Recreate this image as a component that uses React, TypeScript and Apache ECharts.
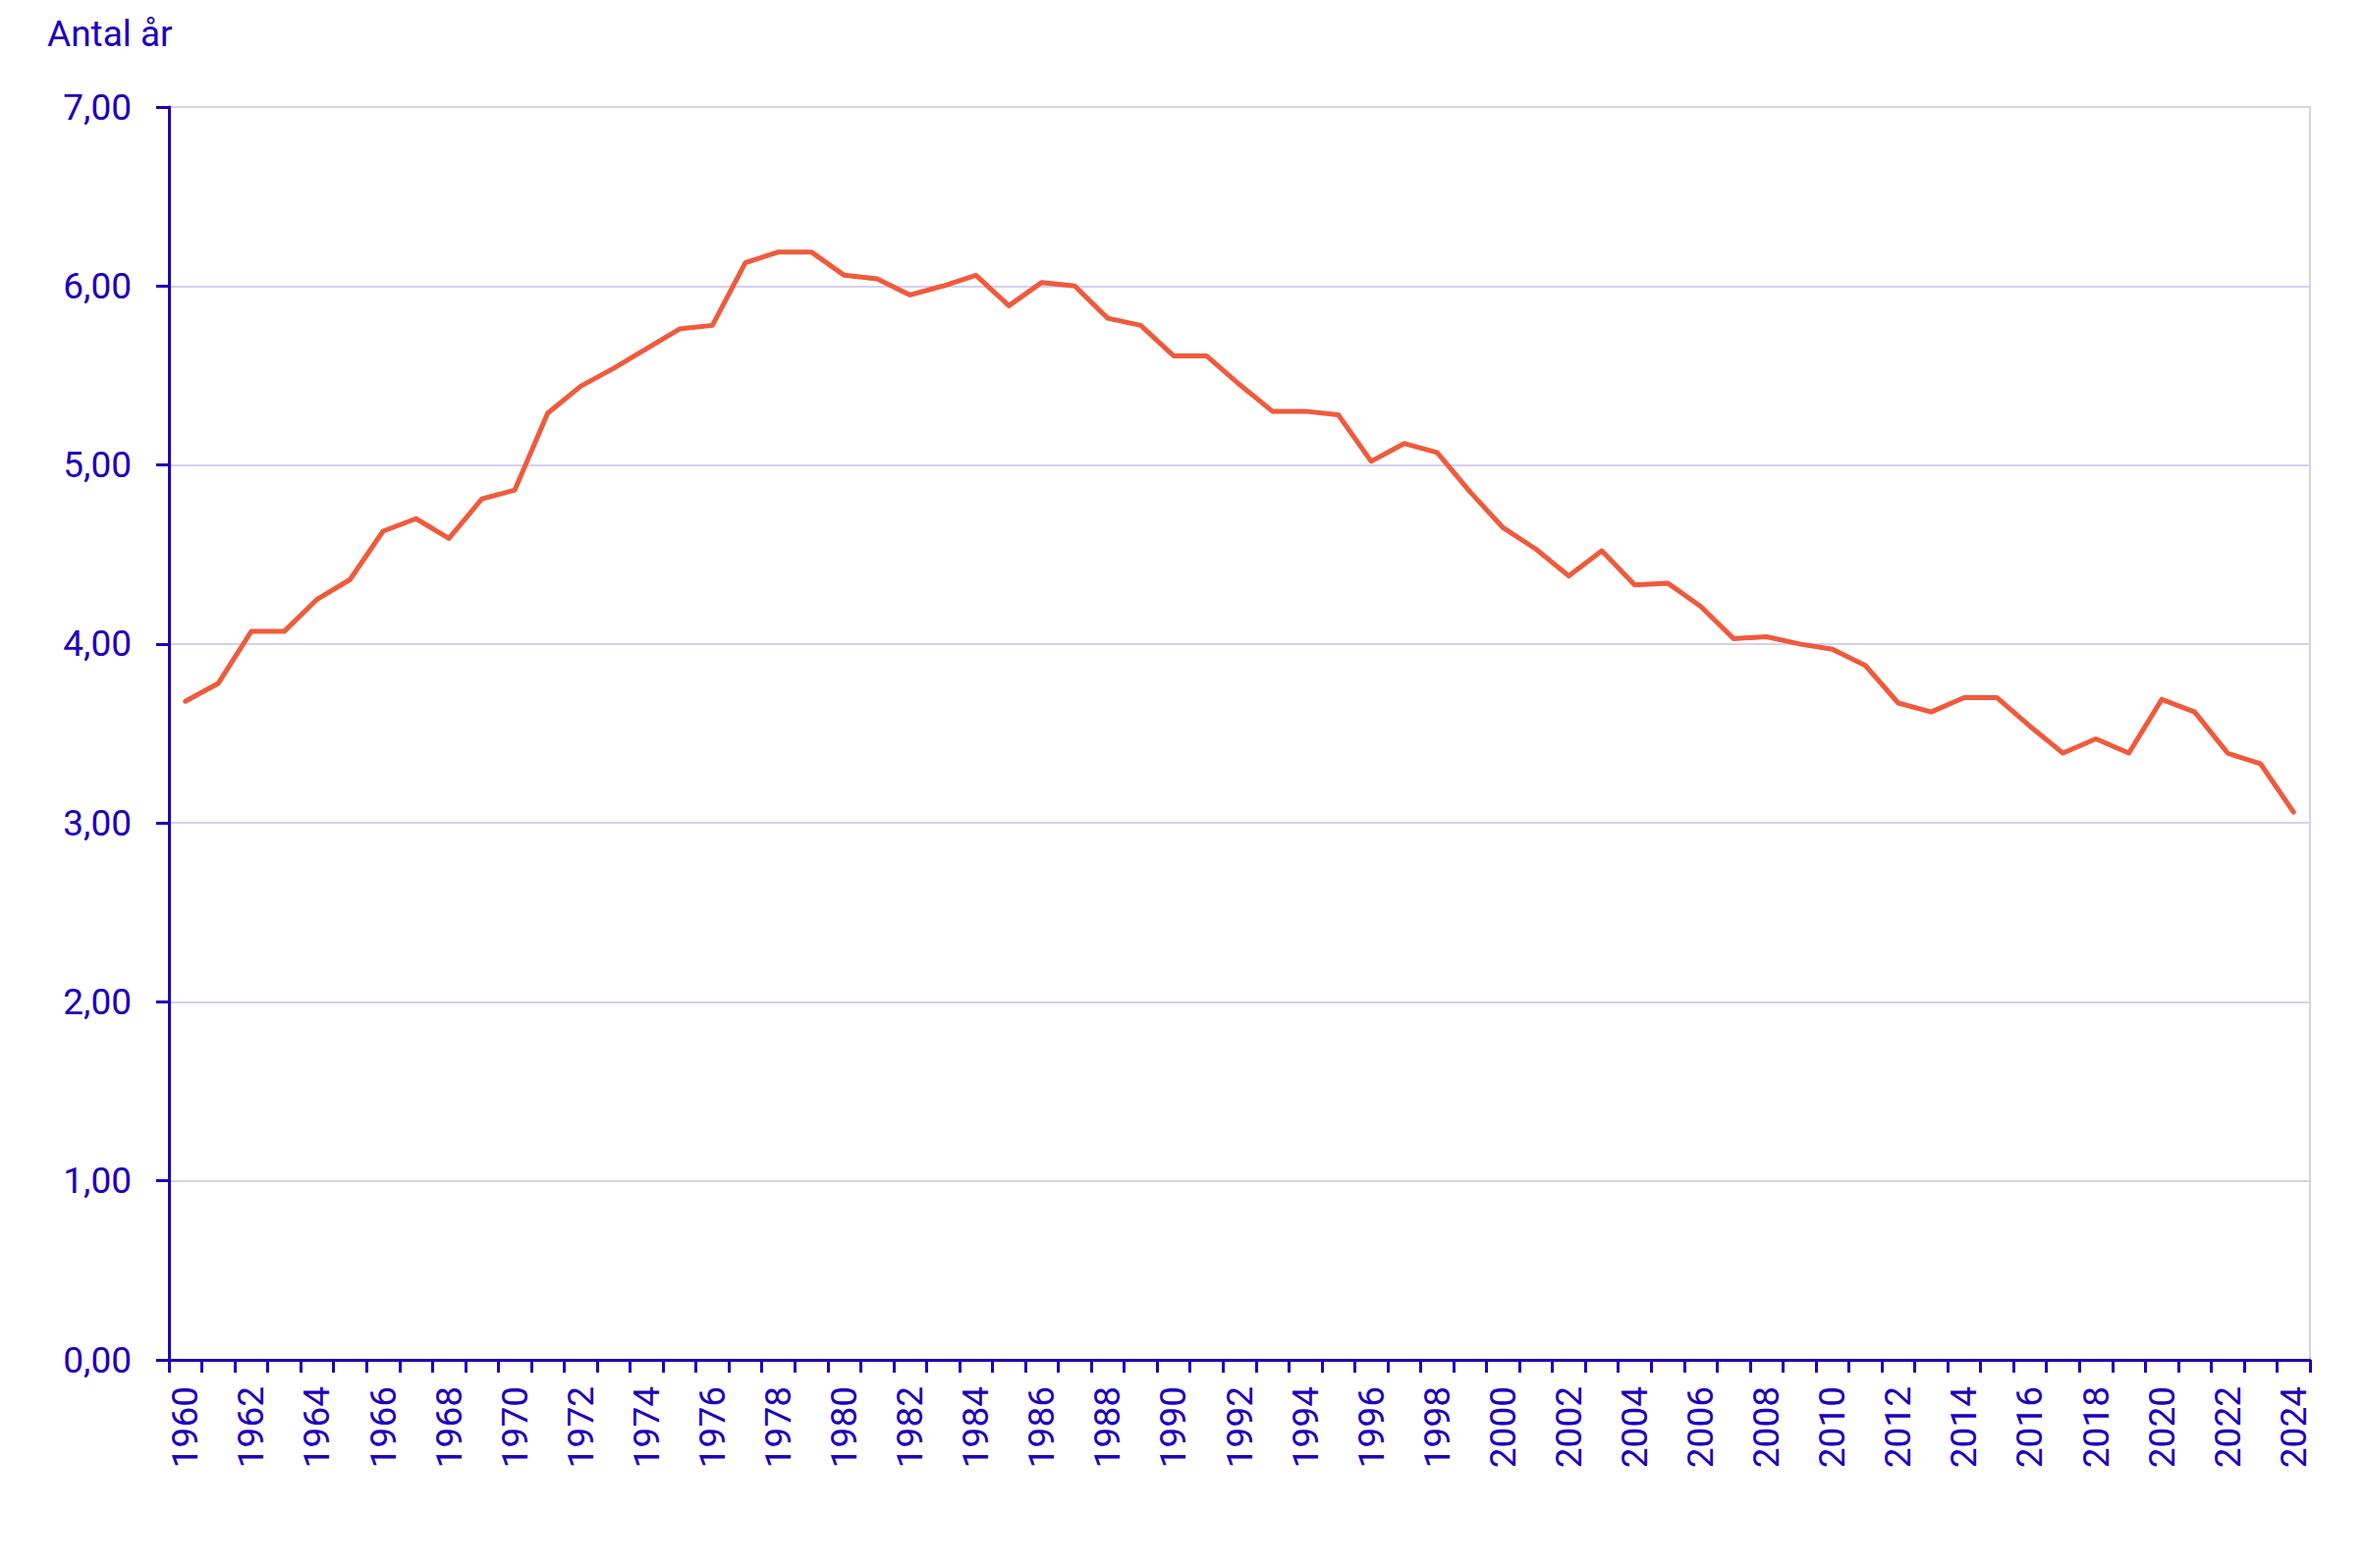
import React, { useEffect, useRef } from "react";
import * as echarts from "echarts";

const years: string[] = [
  "1960", "1961", "1962", "1963", "1964", "1965", "1966", "1967", "1968", "1969",
  "1970", "1971", "1972", "1973", "1974", "1975", "1976", "1977", "1978", "1979",
  "1980", "1981", "1982", "1983", "1984", "1985", "1986", "1987", "1988", "1989",
  "1990", "1991", "1992", "1993", "1994", "1995", "1996", "1997", "1998", "1999",
  "2000", "2001", "2002", "2003", "2004", "2005", "2006", "2007", "2008", "2009",
  "2010", "2011", "2012", "2013", "2014", "2015", "2016", "2017", "2018", "2019",
  "2020", "2021", "2022", "2023", "2024",
];

const values: number[] = [
  3.68, 3.78, 4.07, 4.07, 4.25, 4.36, 4.63, 4.70, 4.59, 4.81,
  4.86, 5.29, 5.44, 5.54, 5.65, 5.76, 5.78, 6.13, 6.19, 6.19,
  6.06, 6.04, 5.95, 6.00, 6.06, 5.89, 6.02, 6.00, 5.82, 5.78,
  5.61, 5.61, 5.45, 5.30, 5.30, 5.28, 5.02, 5.12, 5.07, 4.85,
  4.65, 4.53, 4.38, 4.52, 4.33, 4.34, 4.21, 4.03, 4.04, 4.00,
  3.97, 3.88, 3.67, 3.62, 3.70, 3.70, 3.54, 3.39, 3.47, 3.39,
  3.69, 3.62, 3.39, 3.33, 3.06,
];

const yAxisTitle = "Antal år";

const TEXT = "#1E00BE";
const LINE = "#F05A3C";
const GRID = "#D4D0F0";
const FONT = "Roboto";

export default function App() {
  const ref = useRef<HTMLDivElement>(null);

  useEffect(() => {
    if (!ref.current) return;
    const chart = echarts.init(ref.current, undefined, { renderer: "svg" });
    chart.setOption({
      animation: false,
      backgroundColor: "#ffffff",
      title: {
        text: yAxisTitle,
        left: 43,
        top: 11,
        textStyle: { fontSize: 37, fontWeight: "normal", color: TEXT, fontFamily: FONT },
      },
      grid: {
        left: 172,
        right: 55,
        top: 109,
        bottom: 212,
        show: true,
        borderColor: GRID,
        borderWidth: 2,
        containLabel: false,
      },
      xAxis: {
        type: "category",
        data: years,
        boundaryGap: true,
        axisLine: { show: true, lineStyle: { color: TEXT, width: 3 } },
        axisTick: { show: true, interval: 0, length: 13, lineStyle: { color: TEXT, width: 3 } },
        axisLabel: {
          interval: 1,
          rotate: 90,
          margin: 27,
          color: TEXT,
          fontSize: 37,
          fontFamily: FONT,
        },
        splitLine: { show: false },
      },
      yAxis: {
        type: "value",
        min: 0,
        max: 7,
        interval: 1,
        axisLine: { show: true, lineStyle: { color: TEXT, width: 3 } },
        axisTick: { show: true, length: 13, lineStyle: { color: TEXT, width: 3 } },
        axisLabel: {
          margin: 38,
          color: TEXT,
          fontSize: 37,
          fontFamily: FONT,
          formatter: (v: number) => v.toFixed(2).replace(".", ","),
        },
        splitLine: { show: true, lineStyle: { color: GRID, width: 2 } },
      },
      series: [
        {
          type: "line",
          data: values,
          symbol: "none",
          lineStyle: { color: LINE, width: 5, cap: "round", join: "round" },
        },
      ],
    });
    return () => chart.dispose();
  }, []);

  return (
    <div
      ref={ref}
      style={{ position: "fixed", left: 0, top: 0, width: 2407, height: 1597 }}
    />
  );
}
